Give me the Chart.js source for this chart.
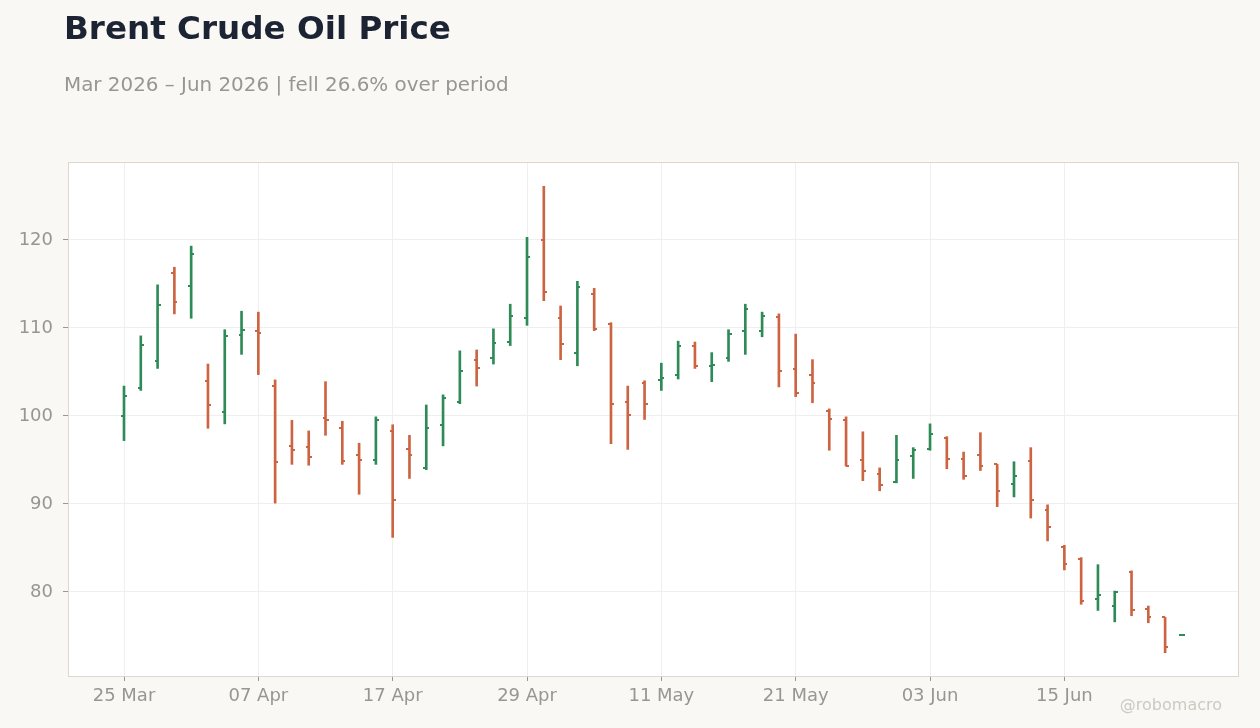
<!DOCTYPE html>
<html>
<head>
<meta charset="utf-8">
<script src="https://cdn.jsdelivr.net/npm/chart.js@4.4.1/dist/chart.umd.min.js"></script>
<style>
  body { margin: 0; background: #f9f8f5; font-family: "DejaVu Sans", sans-serif; }
  #wrap { position: relative; width: 1260px; height: 728px; }
  #title { position: absolute; left: 64px; top: 12px; font-size: 32.6px; line-height: 32px; font-weight: bold; color: #1c2434; white-space: nowrap; }
  #subtitle { position: absolute; left: 64px; top: 75px; font-size: 19.9px; line-height: 20px; color: #9a958f; white-space: nowrap; }
  #credit { position: absolute; right: 38px; top: 697px; font-size: 16px; line-height: 16px; color: #cdc9c3; }
  #chart-box { position: absolute; left: 0; top: 0; width: 1260px; height: 728px; }
</style>
</head>
<body>
<div id="wrap">
  <div id="chart-box"><canvas id="myChart"></canvas></div>
  <div id="title">Brent Crude Oil Price</div>
  <div id="subtitle">Mar 2026 – Jun 2026 | fell 26.6% over period</div>
  <div id="credit">@robomacro</div>
</div>
<script>
// trading days shown on the chart
const dates = [
  "25 Mar", "26 Mar", "27 Mar", "30 Mar", "31 Mar", "01 Apr", "02 Apr", "06 Apr",
  "07 Apr", "08 Apr", "09 Apr", "10 Apr", "13 Apr", "14 Apr", "15 Apr", "16 Apr",
  "17 Apr", "20 Apr", "21 Apr", "22 Apr", "23 Apr", "24 Apr", "27 Apr", "28 Apr",
  "29 Apr", "30 Apr", "01 May", "04 May", "05 May", "06 May", "07 May", "08 May",
  "11 May", "12 May", "13 May", "14 May", "15 May", "18 May", "19 May", "20 May",
  "21 May", "22 May", "26 May", "27 May", "28 May", "29 May", "01 Jun", "02 Jun",
  "03 Jun", "04 Jun", "05 Jun", "08 Jun", "09 Jun", "10 Jun", "11 Jun", "12 Jun",
  "15 Jun", "16 Jun", "17 Jun", "18 Jun", "19 Jun", "22 Jun", "23 Jun", "24 Jun",
];

const openPrices = [
  100.0, 103.2, 106.3, 116.3, 114.8, 104.0, 100.4, 109.2,
  109.7, 103.4, 96.6, 96.5, 99.8, 98.6, 95.6, 95.0,
  98.3, 96.3, 94.1, 99.0, 101.6, 106.4, 106.6, 108.4,
  111.1, 120.0, 111.1, 107.2, 113.9, 110.5, 101.6, 103.7,
  104.1, 104.6, 107.9, 105.7, 106.6, 109.7, 109.7, 111.3,
  105.3, 104.6, 100.6, 99.5, 95.0, 93.4, 92.5, 95.5,
  96.2, 97.5, 95.15, 95.6, 94.5, 92.3, 94.9, 89.35,
  85.15, 83.7, 79.25, 78.4, 82.3, 78.1, 77.1, 75.1,
];

const highPrices = [
  103.4, 109.1, 114.9, 116.9, 119.3, 105.9, 109.8, 111.9,
  111.8, 104.1, 99.5, 98.3, 103.9, 99.4, 96.9, 99.9,
  99.0, 97.8, 101.25, 102.4, 107.4, 107.5, 109.9, 112.7,
  120.3, 126.1, 112.5, 115.3, 114.5, 110.6, 103.4, 104.0,
  106.0, 108.5, 108.4, 107.2, 109.8, 112.7, 111.8, 111.6,
  109.3, 106.4, 100.8, 99.9, 98.2, 94.1, 97.8, 96.4,
  99.1, 97.65, 95.9, 98.1, 94.5, 94.8, 96.4, 89.9,
  85.3, 83.9, 83.1, 80.1, 82.4, 78.4, 77.1, 75.1,
];

const lowPrices = [
  97.2, 102.9, 105.4, 111.6, 111.1, 98.6, 99.1, 107.0,
  104.7, 90.1, 94.5, 94.4, 97.8, 94.5, 91.1, 94.5,
  86.2, 92.9, 93.9, 96.6, 101.4, 103.4, 105.9, 108.0,
  110.3, 113.1, 106.4, 105.7, 109.7, 96.85, 96.2, 99.6,
  102.9, 104.2, 105.4, 103.9, 106.2, 107.0, 109.0, 103.3,
  102.2, 101.5, 96.1, 94.3, 92.65, 91.5, 92.4, 92.9,
  96.1, 94.0, 92.8, 93.8, 89.7, 90.8, 88.4, 85.8,
  82.5, 78.6, 77.9, 76.6, 77.3, 76.5, 73.1, 75.1,
];

const closePrices = [
  102.3, 108.1, 112.6, 112.9, 118.4, 101.3, 109.1, 109.8,
  109.4, 94.8, 96.1, 95.3, 99.5, 94.9, 95.0, 99.5,
  90.5, 95.6, 98.6, 102.0, 105.1, 105.4, 108.3, 111.4,
  118.1, 114.1, 108.2, 114.6, 109.9, 101.4, 100.1, 101.4,
  104.35, 107.9, 105.7, 105.8, 109.35, 112.2, 111.4, 105.15,
  102.6, 103.7, 99.7, 94.35, 93.8, 92.1, 95.0, 96.1,
  97.9, 95.1, 93.2, 94.35, 91.5, 93.2, 90.5, 87.4,
  83.2, 79.0, 79.6, 80.0, 78.0, 77.2, 73.8, 75.1,
];

const yTicks = [80, 90, 100, 110, 120];
const labelEvery = 8;

const UP = "#2e8b57";
const DOWN = "#cd6441";

function isUp(i) {
  return closePrices[i] >= openPrices[i];
}

// little canvases used as point styles for the open (left) and close (right) ticks
function makeTick(color, side) {
  const c = document.createElement("canvas");
  c.width = 6;
  c.height = 2;
  const g = c.getContext("2d");
  g.fillStyle = color;
  g.fillRect(side === "left" ? 0 : 3, 0, 3, 2);
  return c;
}

const openUp = makeTick(UP, "left");
const openDown = makeTick(DOWN, "left");
const closeUp = makeTick(UP, "right");
const closeDown = makeTick(DOWN, "right");

const frame = {
  id: "frame",
  beforeDraw(chart) {
    const { ctx, chartArea: a } = chart;
    ctx.save();
    ctx.fillStyle = "#ffffff";
    ctx.fillRect(a.left, a.top, a.right - a.left, a.bottom - a.top);
    ctx.restore();
  },
  afterDraw(chart) {
    const { ctx, chartArea: a } = chart;
    ctx.save();
    ctx.strokeStyle = "#ddd7cf";
    ctx.lineWidth = 1;
    ctx.strokeRect(a.left + 0.5, a.top + 0.5, a.right - a.left - 1, a.bottom - a.top);
    ctx.restore();
  },
};

const ctx = document.getElementById("myChart");

new Chart(ctx, {
  type: "bar",
  data: {
    datasets: [
      {
        label: "High-Low",
        data: dates.map((d, i) => ({ x: i, y: [lowPrices[i], highPrices[i]] })),
        backgroundColor: dates.map((d, i) => (isUp(i) ? UP : DOWN)),
        barThickness: 2,
        borderWidth: 0,
        grouped: false,
        order: 2,
      },
      {
        type: "scatter",
        label: "Open",
        data: dates.map((d, i) => ({ x: i, y: openPrices[i] })),
        pointStyle: dates.map((d, i) => (isUp(i) ? openUp : openDown)),
        pointRadius: 3,
        order: 1,
      },
      {
        type: "scatter",
        label: "Close",
        data: dates.map((d, i) => ({ x: i, y: closePrices[i] })),
        pointStyle: dates.map((d, i) => (isUp(i) ? closeUp : closeDown)),
        pointRadius: 3,
        order: 1,
      },
    ],
  },
  options: {
    responsive: true,
    maintainAspectRatio: false,
    animation: false,
    events: [],
    layout: {
      padding: { top: 162, right: 21, left: 0, bottom: 0 },
    },
    plugins: {
      legend: { display: false },
      tooltip: { enabled: false },
    },
    scales: {
      x: {
        type: "linear",
        offset: false,
        min: -3.335,
        max: 66.4,
        afterBuildTicks: (axis) => {
          axis.ticks = dates
            .map((d, i) => i)
            .filter((i) => i % labelEvery === 0)
            .map((i) => ({ value: i }));
        },
        afterFit: (axis) => {
          axis.height = 52;
        },
        ticks: {
          autoSkip: false,
          maxRotation: 0,
          padding: 5,
          color: "#9a958f",
          font: { family: "DejaVu Sans", size: 18 },
          callback: (value) => dates[value],
        },
        grid: {
          offset: false,
          color: "#efefef",
          tickColor: "#9a958f",
          tickLength: 5,
        },
        border: { display: false },
      },
      y: {
        min: 70.45,
        max: 128.86,
        afterBuildTicks: (axis) => {
          axis.ticks = yTicks.map((v) => ({ value: v }));
        },
        afterFit: (axis) => {
          axis.width = 68;
        },
        ticks: {
          padding: 10,
          color: "#9a958f",
          font: { family: "DejaVu Sans", size: 18 },
        },
        grid: {
          color: "#efefef",
          tickColor: "#9a958f",
          tickLength: 5,
        },
        border: { display: false },
      },
    },
  },
  plugins: [frame],
});
</script>
</body>
</html>
